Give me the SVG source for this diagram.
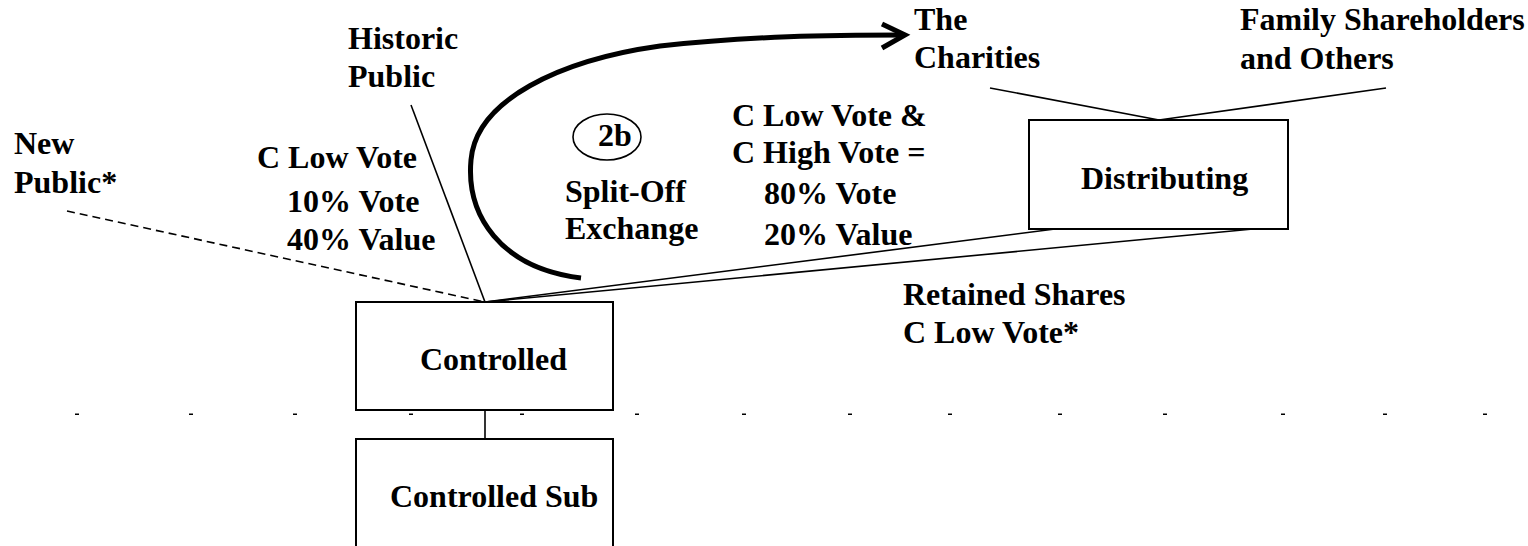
<svg xmlns="http://www.w3.org/2000/svg" width="1528" height="546" viewBox="0 0 1528 546">
<style>
.box{fill:#fff;stroke:#000;stroke-width:2}
.ln{stroke:#000;stroke-width:1.6;fill:none}
.dash{stroke:#000;stroke-width:1.6;fill:none;stroke-dasharray:8 5}
.thick{stroke:#000;stroke-width:5;fill:none;stroke-linecap:butt}
.tick{fill:#000}
</style>
<g id="separator">
<rect class="tick" x="75" y="413.5" width="4" height="1.5"/>
<rect class="tick" x="189" y="413.5" width="4" height="1.5"/>
<rect class="tick" x="293" y="413.5" width="4" height="1.5"/>
<rect class="tick" x="409" y="413.5" width="4" height="1.5"/>
<rect class="tick" x="520" y="413.5" width="4" height="1.5"/>
<rect class="tick" x="635" y="413.5" width="4" height="1.5"/>
<rect class="tick" x="742" y="413.5" width="4" height="1.5"/>
<rect class="tick" x="848" y="413.5" width="4" height="1.5"/>
<rect class="tick" x="948" y="413.5" width="4" height="1.5"/>
<rect class="tick" x="1058" y="413.5" width="4" height="1.5"/>
<rect class="tick" x="1163" y="413.5" width="4" height="1.5"/>
<rect class="tick" x="1281" y="413.5" width="4" height="1.5"/>
<rect class="tick" x="1383" y="413.5" width="4" height="1.5"/>
<rect class="tick" x="1483" y="413.5" width="4" height="1.5"/>
</g>
<g id="connectors">
<line class="ln" x1="411" y1="105" x2="485" y2="302"/>
<line class="dash" x1="67" y1="211" x2="485" y2="302"/>
<line class="ln" x1="1055" y1="229" x2="485" y2="302"/>
<line class="ln" x1="1253" y1="229" x2="485" y2="302"/>
<line class="ln" x1="990" y1="88" x2="1159" y2="120"/>
<line class="ln" x1="1386" y1="88" x2="1159" y2="120"/>
<line class="ln" x1="485" y1="410" x2="485" y2="439"/>
<path class="thick" d="M581,278 C500,268 466,215 471,160 C476,100 560,60 660,46 C750,36 830,35 904,35"/>
<polyline class="thick" points="882,24 905,35 882,48"/>
</g>
<g font-family="Liberation Serif, Times New Roman, serif" font-weight="bold" font-size="32" fill="#000">
<g id="node-controlled">
<rect class="box" x="356" y="302" width="257" height="108"/>
<text x="420" y="370">Controlled</text>
</g>
<g id="node-controlled-sub">
<rect class="box" x="356" y="439" width="257" height="130"/>
<text x="390" y="507">Controlled Sub</text>
</g>
<g id="node-distributing">
<rect class="box" x="1029" y="120" width="259" height="109"/>
<text x="1081" y="189">Distributing</text>
</g>
<g id="node-historic-public">
<text x="348" y="49">Historic</text>
<text x="348" y="87">Public</text>
</g>
<g id="node-new-public">
<text x="14" y="154">New</text>
<text x="14" y="193">Public*</text>
</g>
<g id="node-charities">
<text x="914" y="30">The</text>
<text x="914" y="68">Charities</text>
</g>
<g id="node-family">
<text x="1240" y="30">Family Shareholders</text>
<text x="1240" y="69">and Others</text>
</g>
<g id="labels">
<text x="257" y="168">C Low Vote</text>
<text x="287" y="212">10% Vote</text>
<text x="287" y="250">40% Value</text>
<ellipse cx="607" cy="137" rx="34" ry="23" fill="none" stroke="#000" stroke-width="1.6"/>
<text x="598" y="146">2b</text>
<text x="565" y="202">Split-Off</text>
<text x="565" y="239">Exchange</text>
<text x="732" y="126">C Low Vote &amp;</text>
<text x="732" y="163">C High Vote =</text>
<text x="764" y="204">80% Vote</text>
<text x="764" y="245">20% Value</text>
<text x="903" y="305">Retained Shares</text>
<text x="903" y="343">C Low Vote*</text>
</g>
</g>
</svg>
